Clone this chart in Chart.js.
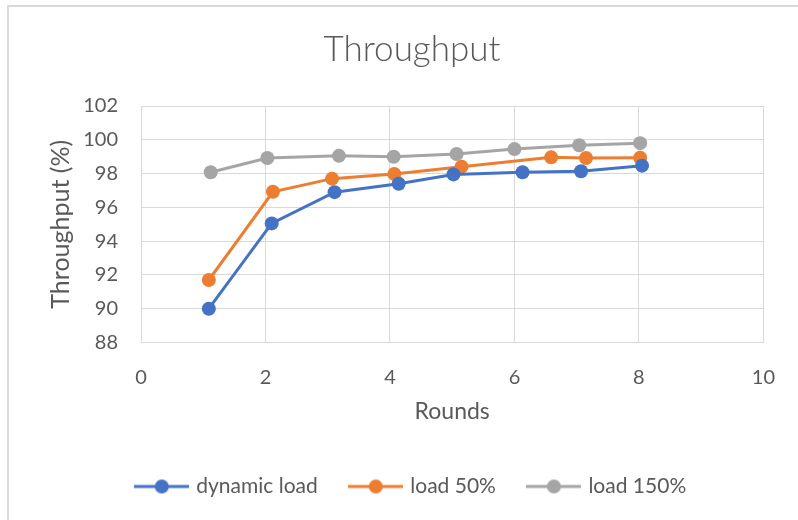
<!DOCTYPE html>
<html>
<head>
<meta charset="utf-8">
<style>
  html, body { margin: 0; padding: 0; background: #fff; }
  #wrap { width: 798px; height: 520px; position: relative; }
</style>
<script src="https://cdn.jsdelivr.net/npm/chart.js@4/dist/chart.umd.min.js"></script>
</head>
<body>
<div id="wrap"><canvas id="c" width="798" height="520"></canvas></div>
<script>
// Rounds (x) and throughput (%) for each load scenario
const dynamicX = [1.09, 2.10, 3.11, 4.14, 5.02, 6.13, 7.07, 8.05];
const dynamicY = [90.0, 95.05, 96.9, 97.4, 97.95, 98.08, 98.14, 98.47];
const half50X  = [1.09, 2.12, 3.07, 4.07, 5.15, 6.59, 7.15, 8.02];
const half50Y  = [91.7, 96.92, 97.7, 97.98, 98.41, 98.96, 98.92, 98.94];
const over150X = [1.12, 2.03, 3.18, 4.06, 5.07, 6.0, 7.04, 8.02];
const over150Y = [98.08, 98.92, 99.05, 99.0, 99.16, 99.45, 99.68, 99.8];
const seriesNames = ['dynamic load', 'load 50%', 'load 150%'];
const xTicks = [0, 2, 4, 6, 8, 10];
const yTicks = [88, 90, 92, 94, 96, 98, 100, 102];

const COLORS = ['#4472C4', '#ED7D31', '#A5A5A5'];
const FONT = 'Lato, "Open Sans", sans-serif';
const TEXT = '#595959';
const GRID = '#D9D9D9';

function pts(xs, ys) { return xs.map((x, i) => ({ x: x, y: ys[i] })); }

// Legend symbol: short line with a filled circle in the middle
function legendSymbol(color) {
  const cv = document.createElement('canvas');
  cv.width = 55; cv.height = 16;
  const g = cv.getContext('2d');
  g.strokeStyle = color; g.lineWidth = 3;
  g.beginPath(); g.moveTo(0, 8); g.lineTo(55, 8); g.stroke();
  g.fillStyle = color;
  g.beginPath(); g.arc(27.5, 8, 7, 0, Math.PI * 2); g.fill();
  return cv;
}

const frame = {
  id: 'frame',
  beforeDraw(chart) {
    const ctx = chart.ctx;
    ctx.save();
    ctx.fillStyle = '#fff';
    ctx.fillRect(0, 0, chart.width, chart.height);
    ctx.fillStyle = GRID;
    ctx.fillRect(7, 5, 2, chart.height - 5);
    ctx.fillRect(7, 5, chart.width - 7, 2);
    ctx.restore();
  }
};

const mkSet = (label, xs, ys, c) => ({
  label: label,
  data: pts(xs, ys),
  borderColor: c,
  backgroundColor: c,
  borderWidth: 3,
  pointRadius: 7,
  pointHoverRadius: 7,
  pointBorderWidth: 0,
  showLine: true,
  tension: 0
});

new Chart(document.getElementById('c'), {
  type: 'scatter',
  data: {
    datasets: [
      mkSet(seriesNames[0], dynamicX, dynamicY, COLORS[0]),
      mkSet(seriesNames[1], half50X, half50Y, COLORS[1]),
      mkSet(seriesNames[2], over150X, over150Y, COLORS[2])
    ]
  },
  options: {
    responsive: false,
    animation: false,
    events: [],
    layout: { padding: { left: 57, right: 31, top: 0, bottom: 13 } },
    plugins: {
      tooltip: { enabled: false },
      title: {
        display: true,
        text: 'Throughput',
        color: TEXT,
        font: { family: FONT, size: 35, weight: '300', lineHeight: 1.2 },
        padding: { top: 29, bottom: 35 }
      },
      legend: {
        position: 'bottom',
        labels: {
          color: TEXT,
          font: { family: FONT, size: 21 },
          usePointStyle: true,
          pointStyleWidth: 48,
          boxHeight: 16,
          padding: 34,
          generateLabels(chart) {
            return chart.data.datasets.map((ds, i) => ({
              text: ds.label,
              fillStyle: ds.borderColor,
              strokeStyle: ds.borderColor,
              fontColor: TEXT,
              pointStyle: legendSymbol(ds.borderColor),
              lineWidth: 0,
              hidden: false,
              datasetIndex: i
            }));
          }
        }
      }
    },
    scales: {
      x: {
        type: 'linear',
        min: 0, max: 10,
        afterBuildTicks(scale) { scale.ticks = xTicks.map(v => ({ value: v })); },
        grid: { color: GRID, lineWidth: 1, drawTicks: false },
        border: { color: GRID, width: 1 },
        ticks: { color: TEXT, font: { family: FONT, size: 20, lineHeight: 1.2 }, padding: 23 },
        title: {
          display: true, text: 'Rounds', color: TEXT,
          font: { family: FONT, size: 23, lineHeight: 1.2 }, padding: { top: 0, bottom: 16.7 }
        },
        afterFit(scale) { scale.height = 99.5; }
      },
      y: {
        type: 'linear',
        min: 88, max: 102,
        afterBuildTicks(scale) { scale.ticks = yTicks.map(v => ({ value: v })); },
        grid: { color: GRID, lineWidth: 1, drawTicks: false },
        border: { color: GRID, width: 1 },
        ticks: { color: TEXT, font: { family: FONT, size: 20 }, padding: 23 },
        title: {
          display: true, text: 'Throughput (%)', color: TEXT,
          font: { family: FONT, size: 25, lineHeight: 1.2 }, padding: { top: -11, bottom: 0 }
        },
        afterFit(scale) { scale.width = 84; }
      }
    }
  },
  plugins: [frame]
});
</script>
</body>
</html>
